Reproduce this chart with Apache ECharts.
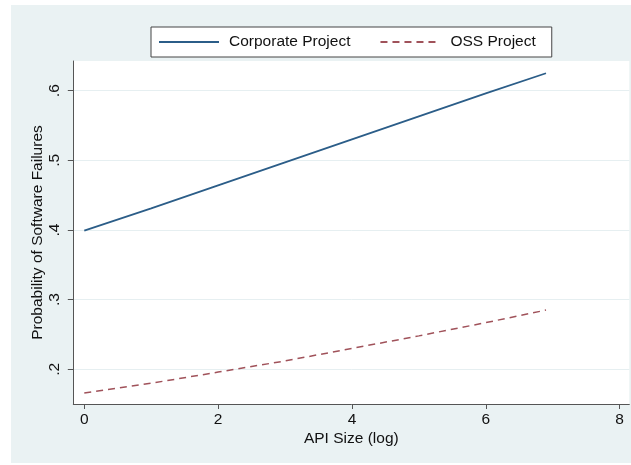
<!DOCTYPE html>
<html>
<head>
<meta charset="utf-8">
<script src="https://cdn.jsdelivr.net/npm/echarts@6/dist/echarts.min.js"></script>
<style>html,body{margin:0;padding:0;background:#fff}#c{width:631px;height:465px}</style>
</head>
<body>
<div id="c"></div>
<script>
// Data
const seriesNames = ['Corporate Project', 'OSS Project'];
const apiSize = [0, 1, 2, 3, 4, 5, 6, 6.9];
const corporate = [0.399, 0.431, 0.464, 0.497, 0.530, 0.563, 0.596, 0.625];
const oss = [0.166, 0.180, 0.196, 0.212, 0.230, 0.248, 0.267, 0.285];
const xTicks = [0, 2, 4, 6, 8];
const yTicks = [0.2, 0.3, 0.4, 0.5, 0.6];

const FONT = 'Liberation Sans, Arial, Helvetica, sans-serif';
const chart = echarts.init(document.getElementById('c'), null, {renderer: 'canvas'});
const pair = (xs, ys) => xs.map((x, i) => [x, ys[i]]);

chart.setOption({
  backgroundColor: '#ffffff',
  animation: false,
  graphic: [{
    type: 'rect', left: 11, top: 5, z: -10, silent: true,
    shape: {width: 620, height: 458},
    style: {fill: '#eaf2f3'}
  }],
  legend: {
    left: 151, top: 27,
    padding: [7, 16, 7, 7],
    itemGap: 29,
    itemWidth: 60, itemHeight: 16,
    backgroundColor: '#ffffff',
    borderColor: '#444', borderWidth: 1, borderRadius: 0,
    itemStyle: {opacity: 0},
    textStyle: {fontFamily: FONT, fontSize: 15.5, color: '#111', padding: [0, 0, 0, 5]},
    data: seriesNames
  },
  grid: {
    left: 73.3, top: 61, width: 556, height: 343,
    show: true, backgroundColor: '#ffffff', borderWidth: 0, containLabel: false
  },
  xAxis: {
    type: 'value', min: -0.164, max: 8.145,
    name: 'API Size (log)', nameLocation: 'middle', nameGap: 27, nameMoveOverlap: false,
    nameTextStyle: {fontFamily: FONT, fontSize: 15.5, color: '#111'},
    axisLine: {show: true, onZero: false, lineStyle: {color: '#555', width: 1}},
    axisTick: {show: true, length: 5, lineStyle: {color: '#555'}, customValues: xTicks},
    axisLabel: {customValues: xTicks, margin: 8, fontFamily: FONT, fontSize: 15.5, color: '#111'},
    splitLine: {show: false}
  },
  yAxis: {
    type: 'value', min: 0.1502, max: 0.6426,
    name: 'Probability of Software Failures', nameLocation: 'middle', nameGap: 28, nameMoveOverlap: false,
    nameTextStyle: {fontFamily: FONT, fontSize: 15.5, color: '#111'},
    axisLine: {show: true, onZero: false, lineStyle: {color: '#555', width: 1}},
    axisTick: {show: true, length: 5.5, lineStyle: {color: '#555'}, customValues: yTicks},
    axisLabel: {
      customValues: yTicks, rotate: 90, margin: 11,
      fontFamily: FONT, fontSize: 15.5, color: '#111',
      formatter: v => String(+v.toFixed(2)).replace(/^0/, '')
    },
    splitLine: {show: true, lineStyle: {color: '#e6eff1', width: 1}}
  },
  series: [{
    name: seriesNames[0], type: 'line', data: pair(apiSize, corporate),
    symbol: 'none', smooth: false,
    lineStyle: {color: '#2b5d88', width: 1.8},
    itemStyle: {color: '#2b5d88'}
  }, {
    name: seriesNames[1], type: 'line', data: pair(apiSize, oss),
    symbol: 'none', smooth: false,
    lineStyle: {color: '#a0525a', width: 1.5, type: [7, 5]},
    itemStyle: {color: '#a0525a'}
  }]
});
</script>
</body>
</html>
